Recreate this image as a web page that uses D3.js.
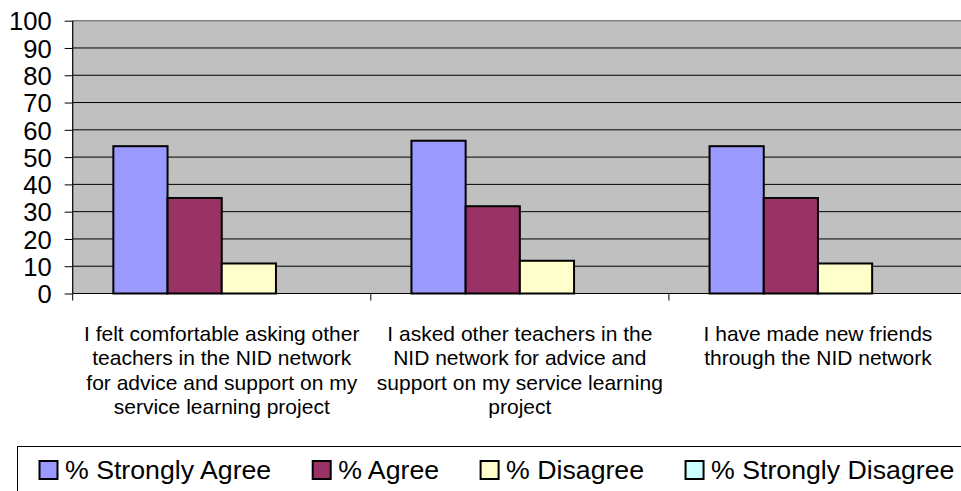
<!DOCTYPE html>
<html>
<head>
<meta charset="utf-8">
<script src="https://cdn.jsdelivr.net/npm/d3@7"></script>
<style>
  html, body { margin: 0; padding: 0; background: #fff; }
  svg { display: block; }
  text { font-family: "Liberation Sans", Arial, sans-serif; fill: #000; }
</style>
</head>
<body>
<svg id="chart" width="961" height="491"></svg>
<script>
// Survey statements (line breaks mark how each label wraps under its group)
const categories = [
  "I felt comfortable asking other\nteachers in the NID network\nfor advice and support on my\nservice learning project",
  "I asked other teachers in the\nNID network for advice and\nsupport on my service learning\nproject",
  "I have made new friends\nthrough the NID network"
];
const seriesNames = ["% Strongly Agree", "% Agree", "% Disagree", "% Strongly Disagree"];
const strongAgree    = [54, 56, 54];
const agree          = [35, 32, 35];
const disagree       = [11, 12, 11];
const strongDisagree = [0, 0, 0];
const seriesColors = ["#9999FF", "#993366", "#FFFFCC", "#CCFFFF"];
const yTicks = [0, 10, 20, 30, 40, 50, 60, 70, 80, 90, 100];

const seriesValues = [strongAgree, agree, disagree, strongDisagree];

const svg = d3.select("#chart");

const plot = { left: 72.7, right: 967, top: 20.7, bottom: 293.5 };

const x0 = d3.scaleBand().domain(categories).range([plot.left, plot.right]).padding(0);
const x1 = d3.scaleBand().domain(seriesNames).range([0, x0.bandwidth()]).paddingInner(0).paddingOuter(0.75);
const y = d3.scaleLinear().domain([0, 100]).range([plot.bottom, plot.top]);

// plot area background
svg.append("rect")
  .attr("x", plot.left).attr("y", plot.top)
  .attr("width", plot.right - plot.left).attr("height", plot.bottom - plot.top)
  .attr("fill", "#C0C0C0");

// horizontal gridlines
svg.append("g").selectAll("line")
  .data(yTicks.filter(d => d > 0 && d < 100))
  .join("line")
  .attr("x1", plot.left).attr("x2", plot.right)
  .attr("y1", d => y(d)).attr("y2", d => y(d))
  .attr("stroke", "#000").attr("stroke-width", 1);

// top border of the plot area
svg.append("line")
  .attr("x1", plot.left).attr("x2", plot.right)
  .attr("y1", y(100)).attr("y2", y(100))
  .attr("stroke", "#808080").attr("stroke-width", 1.5);

// bars
const rows = [];
categories.forEach((c, i) => {
  seriesNames.forEach((s, j) => {
    rows.push({ cat: c, series: s, value: seriesValues[j][i], color: seriesColors[j] });
  });
});

svg.append("g").selectAll("rect")
  .data(rows.filter(d => d.value > 0))
  .join("rect")
  .attr("x", d => x0(d.cat) + x1(d.series))
  .attr("y", d => y(d.value))
  .attr("width", x1.bandwidth())
  .attr("height", d => y(0) - y(d.value))
  .attr("fill", d => d.color)
  .attr("stroke", "#000")
  .attr("stroke-width", 2);

// y axis
const yAxis = d3.axisLeft(y).tickValues(yTicks).tickSize(8).tickPadding(13).tickFormat(d3.format("d"));
const gy = svg.append("g").attr("transform", `translate(${plot.left},0)`).call(yAxis);
gy.select(".domain").attr("stroke", "#000").attr("stroke-width", 1.2).attr("d", `M0,${plot.top}V${plot.bottom}`);
gy.selectAll(".tick line").attr("stroke", "#000");
gy.selectAll(".tick text")
  .attr("font-size", "25.6px")
  .attr("font-family", "'Liberation Sans', Arial, sans-serif")
  .attr("fill", "#000")
  .attr("dy", "0.36em");

// x axis line and category boundary ticks
svg.append("line")
  .attr("x1", plot.left).attr("x2", plot.right)
  .attr("y1", plot.bottom).attr("y2", plot.bottom)
  .attr("stroke", "#000").attr("stroke-width", 1.2);

svg.append("g").selectAll("line")
  .data(categories)
  .join("line")
  .attr("x1", d => x0(d)).attr("x2", d => x0(d))
  .attr("y1", plot.bottom).attr("y2", plot.bottom + 7)
  .attr("stroke", "#000").attr("stroke-width", 1);

// category labels
const catLabels = svg.append("g").selectAll("text")
  .data(categories)
  .join("text")
  .attr("text-anchor", "middle")
  .attr("font-size", "21px")
  .attr("x", d => x0(d) + x0.bandwidth() / 2)
  .attr("y", 340.5);
catLabels.each(function(d) {
  const cx = x0(d) + x0.bandwidth() / 2;
  d3.select(this).selectAll("tspan")
    .data(d.split("\n"))
    .join("tspan")
    .attr("x", cx)
    .attr("dy", (t, i) => i === 0 ? 0 : 24.5)
    .text(t => t);
});

// legend
svg.append("rect")
  .attr("x", 17.5).attr("y", 446.5)
  .attr("width", 960).attr("height", 60)
  .attr("fill", "#fff").attr("stroke", "#000").attr("stroke-width", 1);

const legend = svg.append("g");
let lx = 39.5;
seriesNames.forEach((name, j) => {
  legend.append("rect")
    .attr("x", lx).attr("y", 461)
    .attr("width", 18).attr("height", 18)
    .attr("fill", seriesColors[j])
    .attr("stroke", "#000").attr("stroke-width", 2);
  const t = legend.append("text")
    .attr("x", lx + 25.5).attr("y", 479)
    .attr("font-size", "26.7px")
    .text(name);
  lx = lx + 25.5 + t.node().getComputedTextLength() + 41.5;
});
</script>
</body>
</html>
